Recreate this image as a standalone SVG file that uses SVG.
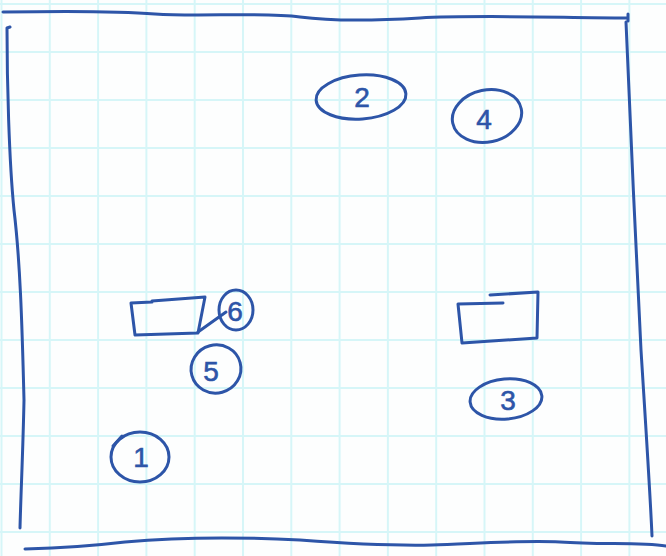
<svg xmlns="http://www.w3.org/2000/svg" width="666" height="556" viewBox="0 0 666 556">
  <defs>
    <pattern id="grid" x="0.5" y="3" width="48.3" height="48" patternUnits="userSpaceOnUse">
      <path d="M1 0 V48 M0 1 H48.3" fill="none" stroke="#d6f6f8" stroke-width="2"/>
    </pattern>
    <style>
      .ink { fill: none; stroke: #2d55a8; stroke-width: 3; stroke-linecap: round; stroke-linejoin: round; }
      .num { font-family: "Liberation Sans", "DejaVu Sans", sans-serif; font-size: 28px; fill: #2d55a8; stroke: #2d55a8; stroke-width: 0.6; text-anchor: middle; }
    </style>
  </defs>
  <rect width="666" height="556" fill="#fdfefe"/>
  <rect width="666" height="556" fill="url(#grid)"/>

  <!-- frame -->
  <g id="frame" class="ink">
    <path d="M3 12 C60 11 120 11 155 14 C200 17 260 12 300 17 C330 21 370 21 420 18 C470 15 530 17 628 18 M628 14 V21"/>
    <path d="M10 27 L7 28 C7 80 9 160 14 210 C20 260 22 320 24 400 C23 450 21 490 20 528"/>
    <path d="M626 22 C630 120 636 250 641 350 C646 430 650 490 652 536"/>
    <path d="M25 549 C60 548 100 545 125 542 C180 537 240 537 300 540 C340 543 390 546 432 545 C470 544 520 540 560 542 C600 545 640 542 666 546"/>
  </g>

  <!-- rectangles -->
  <g id="box-left" class="ink">
    <path d="M152 301 L205 297 L198 333 L135 335 L131 303 L152 302"/>
  </g>
  <g id="box-right" class="ink">
    <path d="M503 303 L458 304 L462 343 L537 338 L538 292 L490 295"/>
  </g>

  <!-- connectors -->
  <g id="connectors" class="ink">
    <path d="M198 332 L226 312"/>
  </g>

  <!-- numbered circles -->
  <g id="node-1">
    <ellipse class="ink" cx="140" cy="457" rx="29" ry="25"/>
    <path class="ink" d="M113 446 L122 436" />
    <text class="num" x="141" y="467">1</text>
  </g>
  <g id="node-2">
    <ellipse class="ink" cx="361" cy="97" rx="45" ry="22" transform="rotate(-4 361 97)"/>
    <text class="num" x="362" y="107">2</text>
  </g>
  <g id="node-3">
    <ellipse class="ink" cx="506" cy="399" rx="36" ry="20" transform="rotate(-5 506 399)"/>
    <text class="num" x="508" y="410">3</text>
  </g>
  <g id="node-4">
    <ellipse class="ink" cx="487" cy="116" rx="35" ry="26" transform="rotate(-12 487 116)"/>
    <text class="num" x="484" y="129">4</text>
  </g>
  <g id="node-5">
    <ellipse class="ink" cx="216" cy="369" rx="25" ry="24" transform="rotate(-15 216 369)"/>
    <text class="num" x="211" y="381">5</text>
  </g>
  <g id="node-6">
    <ellipse class="ink" cx="236" cy="310" rx="17" ry="20"/>
    <text class="num" x="235" y="321">6</text>
  </g>
</svg>
